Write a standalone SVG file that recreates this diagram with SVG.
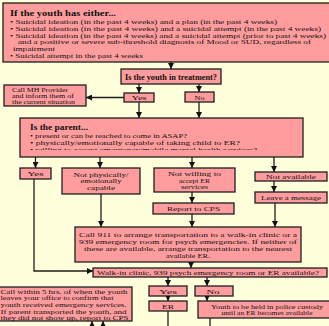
<svg xmlns="http://www.w3.org/2000/svg" width="329" height="326" viewBox="0 0 329 326">
<style>
.bg{fill:#ffffdc}
.box{fill:#ff9c9e;stroke:#1e1e1e;stroke-width:1.3}
.t{font-family:"Liberation Serif","Times New Roman",serif;fill:#111}
.s7{font-size:7px}
.s6{font-size:6.6px}
.s8{font-size:7.6px}
.b{font-weight:bold}
.c{text-anchor:middle}
.ln{fill:none;stroke:#1e1e1e;stroke-width:1.3}
</style>
<defs>
<marker id="ah" markerUnits="userSpaceOnUse" markerWidth="7" markerHeight="6" refX="6" refY="3" orient="auto">
<path d="M0,0 L6,3 L0,6 z" fill="#111"/>
</marker>
<clipPath id="pclip"><rect x="20" y="118" width="283" height="32"/></clipPath>
</defs>
<rect class="bg" x="0" y="0" width="329" height="326"/>

<g id="connectors">
<path class="ln" d="M171,62 V69" marker-end="url(#ah)"/>
<path class="ln" d="M139,84 V93" marker-end="url(#ah)"/>
<path class="ln" d="M199,84 V92" marker-end="url(#ah)"/>
<path class="ln" d="M124,97.5 H86" marker-end="url(#ah)"/>
<path class="ln" d="M139,102 V118" marker-end="url(#ah)"/>
<path class="ln" d="M199,102 V118" marker-end="url(#ah)"/>
<path class="ln" d="M35.5,157 V168" marker-end="url(#ah)"/>
<path class="ln" d="M100,157 V168" marker-end="url(#ah)"/>
<path class="ln" d="M192,157 V168" marker-end="url(#ah)"/>
<path class="ln" d="M274,157 V172" marker-end="url(#ah)"/>
<path class="ln" d="M274,181 V192" marker-end="url(#ah)"/>
<path class="ln" d="M192,192 V203" marker-end="url(#ah)"/>
<path class="ln" d="M192,214 V227" marker-end="url(#ah)"/>
<path class="ln" d="M275,203 V227" marker-end="url(#ah)"/>
<path class="ln" d="M101,194 V227" marker-end="url(#ah)"/>
<path class="ln" d="M34,179 V271 H93" marker-end="url(#ah)"/>
<path class="ln" d="M191,262 V268" marker-end="url(#ah)"/>
<path class="ln" d="M168,277 V286" marker-end="url(#ah)"/>
<path class="ln" d="M207,277 V286" marker-end="url(#ah)"/>
<path class="ln" d="M168,296 V301" marker-end="url(#ah)"/>
<path class="ln" d="M207,296 V301" marker-end="url(#ah)"/>
<path class="ln" d="M168,311 V326"/>
<path class="ln" d="M210,318 V326"/>
<path class="ln" d="M92,327 V321" marker-end="url(#ah)"/>
<path class="ln" d="M103,327 V321" marker-end="url(#ah)"/>
</g>

<g id="criteria">
<rect class="box" x="3" y="3" width="328" height="59"/>
<text class="t b" x="10" y="16" font-size="7.6" textLength="106" lengthAdjust="spacingAndGlyphs">If the youth has either...</text>
<text class="t s7" x="10" y="23.5" textLength="267" lengthAdjust="spacingAndGlyphs">• Suicidal ideation (in the past 4 weeks) and a plan (in the past 4 weeks)</text>
<text class="t s7" x="10" y="30.5" textLength="311" lengthAdjust="spacingAndGlyphs">• Suicidal ideation (in the past 4 weeks) and a suicidal attempt (in the past 4 weeks)</text>
<text class="t s7" x="10" y="37.5" textLength="316" lengthAdjust="spacingAndGlyphs">• Suicidal ideation (in the past 4 weeks) and a suicidal attempt (prior to past 4 weeks)</text>
<text class="t s7" x="18" y="44" textLength="293" lengthAdjust="spacingAndGlyphs">and a positive or severe sub-threshold diagnosis of Mood or SUD, regardless of</text>
<text class="t s7" x="13" y="50.5" textLength="42" lengthAdjust="spacingAndGlyphs">impairment</text>
<text class="t s7" x="10" y="57.5" textLength="133" lengthAdjust="spacingAndGlyphs">• Suicidal attempt in the past 4 weeks</text>
</g>

<g id="treatment">
<rect class="box" x="121" y="69" width="100" height="15"/>
<text class="t b c" x="171" y="79.5" font-size="7.2" textLength="92" lengthAdjust="spacingAndGlyphs">Is the youth in treatment?</text>
</g>

<g id="yes1">
<rect class="box" x="124" y="93" width="30" height="9"/>
<text class="t s6 c" x="139" y="100.2" textLength="15" lengthAdjust="spacingAndGlyphs">Yes</text>
</g>

<g id="no1">
<rect class="box" x="185" y="92" width="29" height="10"/>
<text class="t s6 c" x="199.5" y="99.7" textLength="10" lengthAdjust="spacingAndGlyphs">No</text>
</g>

<g id="callmh">
<rect class="box" x="4" y="85" width="82" height="21"/>
<text class="t s6" x="12" y="91.5" textLength="56" lengthAdjust="spacingAndGlyphs">Call MH Provider</text>
<text class="t s6" x="12" y="97.5" textLength="62" lengthAdjust="spacingAndGlyphs">and inform them of</text>
<text class="t s6" x="12" y="103.5" textLength="63" lengthAdjust="spacingAndGlyphs">the current situation</text>
</g>

<g id="parent">
<rect class="box" x="20" y="118" width="283" height="39"/>
<g clip-path="url(#pclip)">
<text class="t b" x="30" y="130" font-size="7.6" textLength="58" lengthAdjust="spacingAndGlyphs">Is the parent...</text>
<text class="t s7" x="30" y="137.5" textLength="157" lengthAdjust="spacingAndGlyphs">• present or can be reached to come in ASAP?</text>
<text class="t s7" x="30" y="144.5" textLength="210" lengthAdjust="spacingAndGlyphs">• physically/emotionally capable of taking child to ER?</text>
<text class="t s7" x="30" y="151.5" textLength="227" lengthAdjust="spacingAndGlyphs">• willing to accept emergency/mobile mental health services?</text>
</g>
</g>

<g id="yes2">
<rect class="box" x="20" y="168" width="31" height="11"/>
<text class="t s6 c" x="35.5" y="176" textLength="16" lengthAdjust="spacingAndGlyphs">Yes</text>
</g>

<g id="notcapable">
<rect class="box" x="62" y="168" width="78" height="26"/>
<text class="t s6 c" x="101" y="176.5" textLength="55" lengthAdjust="spacingAndGlyphs">Not physically/</text>
<text class="t s6 c" x="101" y="183.3" textLength="41" lengthAdjust="spacingAndGlyphs">emotionally</text>
<text class="t s6 c" x="101" y="190.1" textLength="28" lengthAdjust="spacingAndGlyphs">capable</text>
</g>

<g id="notwilling">
<rect class="box" x="154" y="168" width="81" height="24"/>
<text class="t s6 c" x="194.5" y="176" textLength="53" lengthAdjust="spacingAndGlyphs">Not willing to</text>
<text class="t s6 c" x="194.5" y="182.6" textLength="31" lengthAdjust="spacingAndGlyphs">accept ER</text>
<text class="t s6 c" x="194.5" y="189.2" textLength="27" lengthAdjust="spacingAndGlyphs">services</text>
</g>

<g id="notavailable">
<rect class="box" x="255" y="172" width="72" height="9"/>
<text class="t s6 c" x="291" y="179.2" textLength="50" lengthAdjust="spacingAndGlyphs">Not available</text>
</g>

<g id="leavemsg">
<rect class="box" x="255" y="192" width="72" height="11"/>
<text class="t s6 c" x="291" y="200" textLength="60" lengthAdjust="spacingAndGlyphs">Leave a message</text>
</g>

<g id="reportcps">
<rect class="box" x="153" y="203" width="81" height="11"/>
<text class="t s6 c" x="193.5" y="211" textLength="53" lengthAdjust="spacingAndGlyphs">Report to CPS</text>
</g>

<g id="call911">
<rect class="box" x="75" y="227" width="226" height="35"/>
<text class="t s7 c" x="188" y="236.8" textLength="218" lengthAdjust="spacingAndGlyphs">Call 911 to arrange transportation to a walk-in clinic or a</text>
<text class="t s7 c" x="188" y="243.8" textLength="218" lengthAdjust="spacingAndGlyphs">939 emergency room for psych emergencies. If neither of</text>
<text class="t s7 c" x="188" y="250.8" textLength="208" lengthAdjust="spacingAndGlyphs">these are available, arrange transportation to the nearest</text>
<text class="t s7 c" x="188" y="257.8" textLength="44" lengthAdjust="spacingAndGlyphs">available ER.</text>
</g>

<g id="walkin">
<rect class="box" x="93" y="268" width="234" height="9"/>
<text class="t s7 c" x="208" y="275.3" textLength="222" lengthAdjust="spacingAndGlyphs">Walk-in clinic, 939 psych emergency room or ER available?</text>
</g>

<g id="yes3">
<rect class="box" x="149" y="286" width="38" height="10"/>
<text class="t s6 c" x="168" y="293.7" textLength="18" lengthAdjust="spacingAndGlyphs">Yes</text>
</g>

<g id="no3">
<rect class="box" x="195" y="286" width="38" height="10"/>
<text class="t s6 c" x="213" y="293.7" textLength="13" lengthAdjust="spacingAndGlyphs">No</text>
</g>

<g id="er">
<rect class="box" x="149" y="301" width="38" height="10"/>
<text class="t s6 c" x="168" y="308.7" textLength="12" lengthAdjust="spacingAndGlyphs">ER</text>
</g>

<g id="custody">
<rect class="box" x="198" y="301" width="133" height="17"/>
<text class="t s6 c" x="267" y="308.5" textLength="112" lengthAdjust="spacingAndGlyphs">Youth to be held in police custody</text>
<text class="t s6 c" x="267" y="315.3" textLength="91" lengthAdjust="spacingAndGlyphs">until an ER becomes available</text>
</g>

<g id="callwithin">
<rect class="box" x="-5" y="287" width="137" height="34"/>
<text class="t s7" x="0.5" y="293.5" textLength="127" lengthAdjust="spacingAndGlyphs">Call within 5 hrs. of when the youth</text>
<text class="t s7" x="0.5" y="300.2" textLength="113" lengthAdjust="spacingAndGlyphs">leaves your office to confirm that</text>
<text class="t s7" x="0.5" y="306.9" textLength="126" lengthAdjust="spacingAndGlyphs">youth received emergency services.</text>
<text class="t s7" x="0.5" y="313.6" textLength="126" lengthAdjust="spacingAndGlyphs">If parent transported the youth, and</text>
<text class="t s7" x="0.5" y="320.3" textLength="128" lengthAdjust="spacingAndGlyphs">they did not show up, report to CPS</text>
</g>
</svg>
